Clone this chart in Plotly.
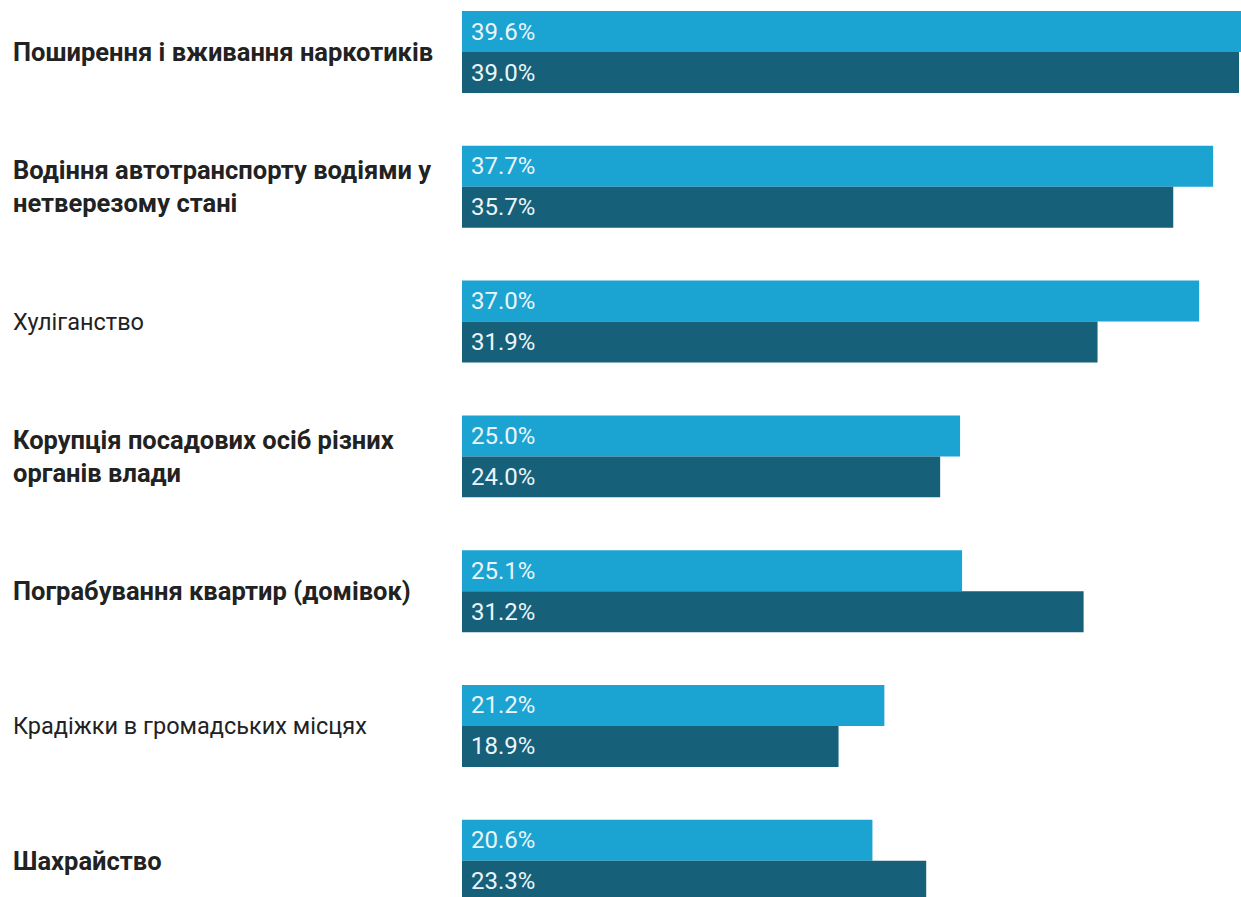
import plotly.graph_objects as go

categories = [
    "Поширення і вживання наркотиків",
    "Водіння автотранспорту водіями у\nнетверезому стані",
    "Хуліганство",
    "Корупція посадових осіб різних\nорганів влади",
    "Пограбування квартир (домівок)",
    "Крадіжки в громадських місцях",
    "Шахрайство",
]
bold_flags = [True, True, False, True, True, False, True]
series_a = [39.6, 37.7, 37.0, 25.0, 25.1, 21.2, 20.6]
series_b = [39.0, 35.7, 31.9, 24.0, 31.2, 18.9, 23.3]

LIGHT = "#1ba3d2"
DARK = "#16607a"
W, H = 1241, 897
LEFT = 462
cat_ids = [c.replace("\n", " ") for c in categories]

fig = go.Figure()
fig.add_trace(go.Bar(y=cat_ids, x=series_a, orientation="h", marker=dict(color=LIGHT, line=dict(width=0)),
                     showlegend=False, hoverinfo="skip"))
fig.add_trace(go.Bar(y=cat_ids, x=series_b, orientation="h", marker=dict(color=DARK, line=dict(width=0)),
                     showlegend=False, hoverinfo="skip"))

annotations = []
# value labels
for cid, va, vb in zip(cat_ids, series_a, series_b):
    for v, shift in ((va, 20.5), (vb, -20.5)):
        annotations.append(dict(x=0, y=cid, xref="x", yref="y", text=f"{v:.1f}%", showarrow=False,
                                xanchor="left", yanchor="middle", xshift=7, yshift=shift,
                                font=dict(family="Roboto", size=24, color="#eaf6fb")))
# category labels
plot_w = W - LEFT
for cid, label, b in zip(cat_ids, categories, bold_flags):
    lines = label.split("\n")
    n = len(lines)
    for i, line in enumerate(lines):
        txt = f"<b>{line}</b>" if b else line
        annotations.append(dict(x=-(LEFT - 11) / plot_w, y=cid, xref="paper", yref="y", text=txt,
                                showarrow=False, xanchor="left", yanchor="middle",
                                yshift=((n - 1) / 2 - i) * 33,
                                font=dict(family="Roboto", size=25.5 if b else 23.5, color="#222222")))

fig.update_layout(
    width=W, height=H,
    margin=dict(l=LEFT, r=0, t=0, b=0),
    barmode="group", bargap=0.392, bargroupgap=0,
    plot_bgcolor="white", paper_bgcolor="white",
    xaxis=dict(range=[0, 39.1], visible=False, showgrid=False, zeroline=False),
    yaxis=dict(range=[6.269, -0.386], visible=False, showgrid=False, zeroline=False,
               categoryorder="array", categoryarray=cat_ids),
    annotations=annotations,
)
fig.write_html("out.html", config={"displayModeBar": False},
               post_script="document.body.style.margin='0';document.body.style.overflow='hidden';")
